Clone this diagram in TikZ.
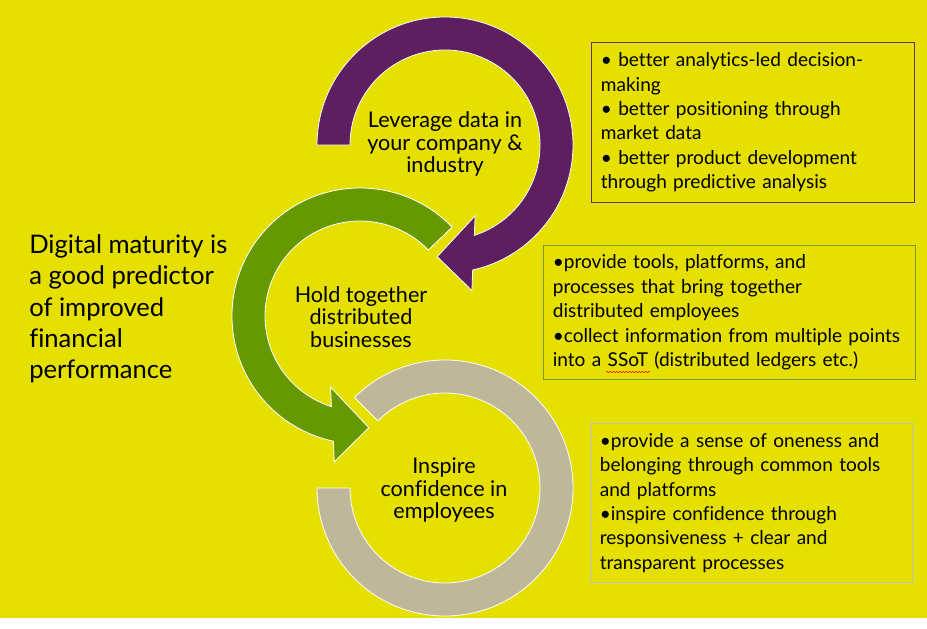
\documentclass[tikz,border=0pt]{standalone}
\usepackage{fontspec}
\setmainfont{Lato}[Ligatures=NoCommon]
\usetikzlibrary{decorations.pathmorphing}

\definecolor{bgyellow}{HTML}{E6E000}
\definecolor{levpurple}{HTML}{5E1F61}
\definecolor{holdgreen}{HTML}{669900}
\definecolor{inspgray}{HTML}{BFB799}
\definecolor{boxpurple}{HTML}{6A2C72}
\definecolor{boxgreen}{HTML}{7A9A1E}
\definecolor{boxgray}{HTML}{BDBDBD}
\tikzstyle{band}=[draw=white, line width=0.6pt, line join=miter]
\tikzstyle{ringlabel}=[align=center, inner sep=0, font=\fontsize{16.2}{16.8}\selectfont]
\tikzstyle{infobox}=[draw, line width=0.75pt, anchor=north west, inner xsep=7pt, inner ysep=0, align=left, font=\fontsize{14.3}{18.3}\selectfont]

\begin{document}
\begin{tikzpicture}[x=0.75pt, y=-0.75pt]

\fill [bgyellow] (0, 0) rectangle (927, 618);

% purple ring, clockwise, arrow head at the bottom
\begin{scope}[shift={(445, 145)}]
\fill [levpurple, band] (-180:128) arc [start angle=-180, end angle=77.5, radius=128]
        -- (79.5:148) -- (94:112) -- (67:77) -- (72:95)
        arc [start angle=72, end angle=-180, radius=95] -- cycle;
\end{scope}

% green ring, counter-clockwise
\begin{scope}[shift={(360, 316)}]
\fill [holdgreen, band] (-44:128) arc [start angle=-44, end angle=-258, radius=128]
        -- (-260:148) -- (-274.5:112) -- (-247.5:77) -- (-252.5:95)
        arc [start angle=-252.5, end angle=-44, radius=95] -- cycle;
\end{scope}

% gray ring, no head
\begin{scope}[shift={(445, 488)}]
\fill [inspgray, band] (-135:128) arc [start angle=-135, end angle=180, radius=128]
        -- (180:95) arc [start angle=180, end angle=-135, radius=95] -- cycle;
\end{scope}

\node [ringlabel] (lev) at (445, 144) {Leverage data in\\your company \&\\industry};
\node [ringlabel] (hold) at (361, 317) {Hold together\\distributed\\businesses};
\node [ringlabel] (insp) at (444, 490) {Inspire\\confidence in\\employees};

\node [anchor=west, align=left, inner sep=0, font=\fontsize{19.2}{23.5}\selectfont] (claim) at (29, 309) {Digital maturity is\\a good predictor\\of improved\\financial\\performance};

\node [infobox, draw=boxpurple, text width=228pt, minimum height=120pt] (levbox) at (591, 42)
        {• better analytics-led decision-\\making\\• better positioning through\\market data\\• better product development\\through predictive analysis};
\node [infobox, draw=boxgreen, text width=265pt, minimum height=100.5pt] (holdbox) at (543, 245)
        {•provide tools, platforms, and\\processes that bring together\\distributed employees\\•collect information from multiple points\\into a SSoT (distributed ledgers etc.)};
\node [infobox, draw=boxgray, text width=227.5pt, minimum height=119.25pt] (inspbox) at (590, 423)
        {•provide a sense of oneness and\\belonging through common tools\\and platforms\\•inspire confidence through\\responsiveness + clear and\\transparent processes};

% spell check mark
\draw [red, line width=0.4pt, decorate, decoration={snake, amplitude=0.5pt, segment length=2.4pt}] (606, 372) -- (650, 372);

\end{tikzpicture}
\end{document}
